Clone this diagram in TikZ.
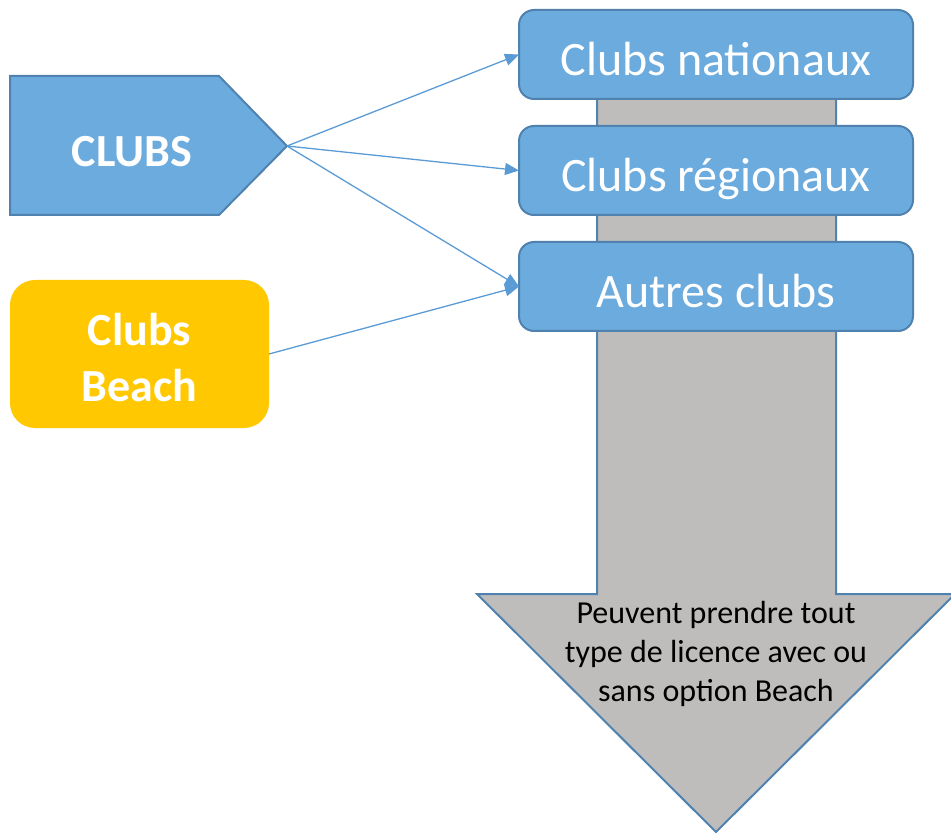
\documentclass[tikz,border=0pt]{standalone}
\usepackage{fontspec}
\setmainfont{Carlito}
\usetikzlibrary{arrows.meta}
\definecolor{boxblue}{RGB}{108,171,221}
\definecolor{boxedge}{RGB}{80,130,175}
\definecolor{linkblue}{RGB}{91,155,213}
\definecolor{arrowgray}{RGB}{190,189,187}
\definecolor{beachyellow}{RGB}{255,200,0}
\begin{document}
\begin{tikzpicture}[x=1pt,y=-1pt,
  levelbox/.style={draw=boxedge, line width=2pt, fill=boxblue, rounded corners=15pt,
    minimum width=394pt, minimum height=89pt, inner sep=0pt, outer sep=0pt,
    text height=43pt, text depth=0pt,
    text=white, font=\fontsize{48}{57}\selectfont},
  link/.style={draw=linkblue, line width=1.3pt, -{Triangle[length=14pt,width=12pt]}}]
\useasboundingbox (0,0) rectangle (951,834);
% big gray arrow
\filldraw[fill=arrowgray, draw=boxedge, line width=2pt]
  (597,30) -- (836,30) -- (836,594) -- (955,594) -- (716,832) -- (477,594) -- (597,594) -- cycle;
\node[align=center, font=\fontsize{32}{39}\selectfont, inner sep=0pt] (note) at (716,654)
  {Peuvent prendre tout\\type de licence avec ou\\sans option Beach};
% level boxes
\node[levelbox] (nat) at (716,54.5) {Clubs nationaux};
\node[levelbox] (reg) at (716,170.5) {Clubs régionaux};
\node[levelbox] (aut) at (716,286.5) {Autres clubs};
% CLUBS pentagon
\filldraw[fill=boxblue, draw=boxedge, line width=2pt]
  (10,76) -- (219,76) -- (287,146) -- (219,215) -- (10,215) -- cycle;
\node[text=white, font=\bfseries\fontsize{46}{55}\selectfont] (clubs) at (132,152) {CLUBS};
\coordinate (clubstip) at (287,146);
% Clubs Beach
\node[fill=beachyellow, rounded corners=25pt, minimum width=259pt, minimum height=148pt,
  inner sep=0pt, outer sep=0pt] (beach) at (139.5,354) {};
\node[text=white, align=center, inner sep=0pt,
  font=\bfseries\fontsize{46}{56}\selectfont] (beachtext) at (139.5,358) {Clubs\\Beach};
% connectors
\draw[link] (clubstip) -- (nat.west);
\draw[link] (clubstip) -- (reg.west);
\draw[link] (clubstip) -- (aut.west);
\draw[link] (beach.east) -- (aut.west);
\end{tikzpicture}
\end{document}
